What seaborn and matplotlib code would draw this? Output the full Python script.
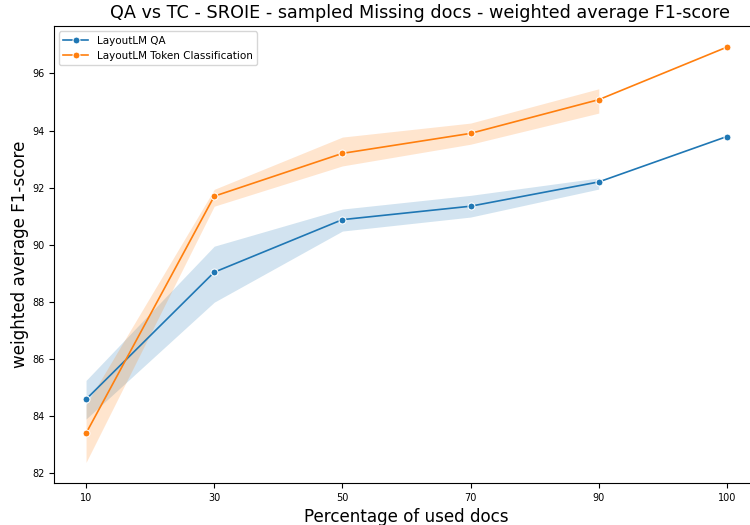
import pandas as pd
import seaborn as sns
import matplotlib.pyplot as plt

# x categories (percentage of used docs)
pcts = ['10', '30', '50', '70', '90', '100']

# LayoutLM QA: centre line and band edges (None -> single run, no band)
qa_mid = [84.59, 89.04, 90.88, 91.35, 92.20, 93.79]
qa_low = [83.90, 87.99, 90.48, 90.97, 91.95, None]
qa_high = [85.25, 89.95, 91.25, 91.73, 92.34, None]

# LayoutLM Token Classification
tc_mid = [83.40, 91.70, 93.20, 93.90, 95.08, 96.92]
tc_low = [82.38, 91.35, 92.76, 93.52, 94.61, None]
tc_high = [84.40, 91.94, 93.77, 94.26, 95.46, None]

models = {
    'LayoutLM QA': (qa_mid, qa_low, qa_high),
    'LayoutLM Token Classification': (tc_mid, tc_low, tc_high),
}

# long format: median of (low, mid, high) gives the line, min/max gives the band
rows = []
for name, (mid, low, high) in models.items():
    for p, m, lo, hi in zip(pcts, mid, low, high):
        rows.append((p, m, name))
        if lo is not None:
            rows.append((p, lo, name))
            rows.append((p, hi, name))
df = pd.DataFrame(rows, columns=['pct', 'f1', 'model'])
df['pct'] = pd.Categorical(df['pct'], categories=pcts, ordered=True)

fig, ax = plt.subplots(figsize=(7.5, 5.25), dpi=100)
sns.lineplot(data=df, x='pct', y='f1', hue='model', marker='o', markersize=5,
             estimator='median', errorbar=('pi', 100), linewidth=1.2,
             err_kws={'linewidth': 0}, ax=ax)

ax.set_title('QA vs TC - SROIE - sampled Missing docs - weighted average F1-score',
             fontsize=12.7, x=0.519)
ax.set_xlabel('Percentage of used docs', fontsize=12.1)
ax.set_ylabel('weighted average F1-score', fontsize=12.1, labelpad=2)
ax.tick_params(labelsize=7)
ax.set_yticks([82, 84, 86, 88, 90, 92, 94, 96])
ax.set_ylim(81.66, 97.65)
sns.move_legend(ax, 'upper left', title=None, fontsize=7.5, handlelength=2.4)

plt.subplots_adjust(left=0.072, right=1.012, top=0.95, bottom=0.08)
plt.savefig('out.png')
